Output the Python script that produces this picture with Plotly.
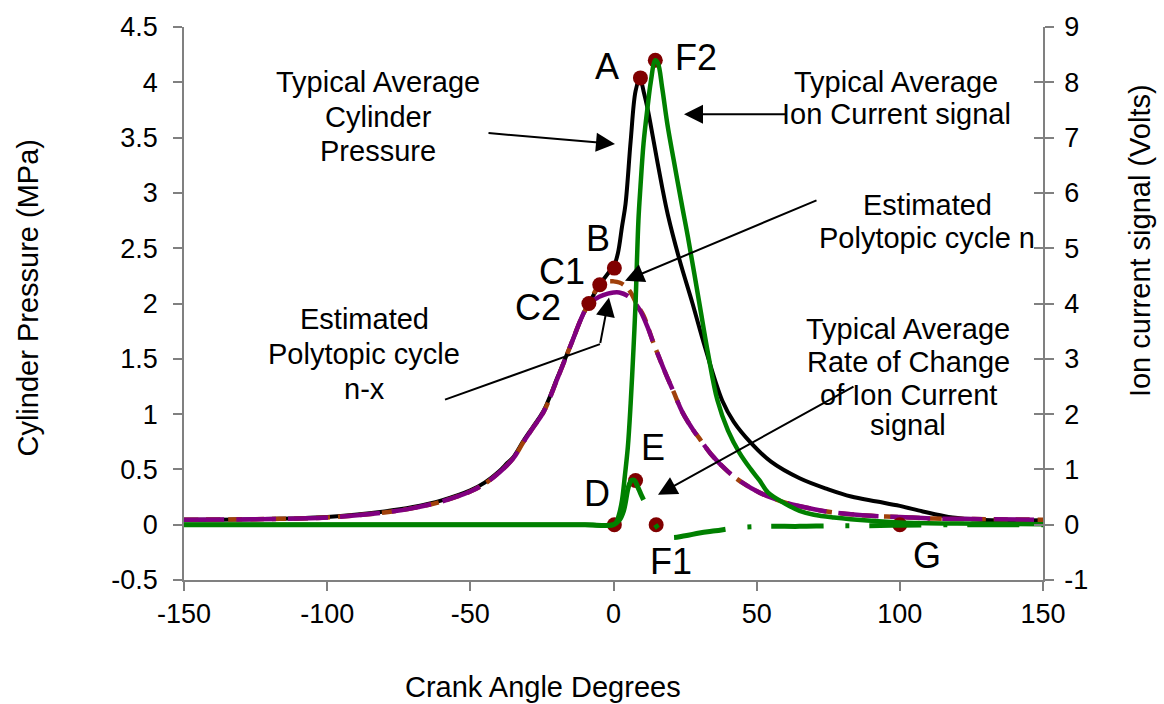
import plotly.graph_objects as go

# ---------------- data ----------------
ang_p = [-150, -125, -100, -80, -70, -60, -50, -45, -40, -37, -35, -31.4, -28, -24.4, -19.6, -15, -11,
         -8.6, -4.8, -2, 0, 1.5, 3, 4.2, 6, 7.7, 9.2, 10.5, 12, 14, 17, 19, 23, 27.6, 32, 38, 42, 48,
         55, 65, 75, 83, 92, 100, 108, 117, 125, 135, 150]
pressure = [0.045, 0.05, 0.07, 0.12, 0.16, 0.22, 0.31, 0.38, 0.48, 0.56, 0.61, 0.76, 0.89, 1.03, 1.33,
            1.62, 1.88, 2.0, 2.17, 2.27, 2.33, 2.45, 2.7, 2.9, 3.47, 3.92, 4.04, 3.92, 3.75, 3.47, 3.05,
            2.8, 2.4, 2.0, 1.6, 1.12, 0.93, 0.74, 0.57, 0.42, 0.32, 0.255, 0.21, 0.17, 0.12, 0.07, 0.05,
            0.04, 0.04]

ang_n = [-150, -125, -100, -80, -70, -60, -50, -45, -40, -35, -31.4, -28, -24.4, -19.6, -15, -11, -8.6,
         -4.8, -2, 0, 2, 4, 6, 8, 10.5, 14, 18, 21, 24, 28, 30, 34, 40, 45, 51, 60, 70, 77, 90, 100,
         112, 130, 150]
cycle_n = [0.045, 0.05, 0.065, 0.11, 0.15, 0.21, 0.3, 0.37, 0.47, 0.6, 0.75, 0.88, 1.02, 1.32, 1.62,
           1.88, 2.0, 2.17, 2.2, 2.2, 2.19, 2.16, 2.1, 2.0, 1.89, 1.64, 1.38, 1.2, 1.02, 0.85, 0.78,
           0.64, 0.48, 0.38, 0.29, 0.2, 0.14, 0.11, 0.08, 0.07, 0.055, 0.05, 0.045]

ang_nx = [-150, -125, -100, -80, -70, -60, -50, -45, -40, -35, -31.4, -28, -24.4, -19.6, -15, -11, -8.6,
          -5, -2, 0, 2, 4.9, 7, 9.4, 12, 14, 18, 21, 24, 28, 30, 34, 40, 45, 51, 60, 70, 77, 90, 100,
          112, 130, 150]
cycle_nx = [0.045, 0.05, 0.065, 0.11, 0.15, 0.21, 0.3, 0.37, 0.47, 0.6, 0.75, 0.88, 1.02, 1.32, 1.62,
            1.88, 2.0, 2.06, 2.09, 2.1, 2.1, 2.07, 2.02, 1.93, 1.78, 1.64, 1.38, 1.2, 1.02, 0.85, 0.78,
            0.64, 0.48, 0.38, 0.29, 0.2, 0.14, 0.11, 0.08, 0.07, 0.055, 0.05, 0.045]

ang_i = [-150, -120, -90, -60, -30, -10, 0, 1, 2, 3, 4, 5, 6, 7, 7.7, 8.7, 9.4, 10.5, 11.9, 13, 14.6,
         15.5, 17, 18.8, 21, 24, 26, 30, 33, 36.3, 40, 44, 48, 51, 54, 60, 65, 70, 77, 90, 100, 120, 150]
ion_current = [0.0, 0.0, 0.0, 0.0, 0.0, 0.0, 0.0, 0.05, 0.2, 0.45, 0.9, 1.4, 2.2, 3.2, 4.0, 5.5, 6.1, 6.9,
               7.55, 8.0, 8.4, 8.35, 7.9, 7.25, 6.6, 5.75, 5.2, 4.0, 3.1, 2.25, 1.7, 1.3, 1.0, 0.8, 0.58,
               0.38, 0.25, 0.18, 0.13, 0.07, 0.04, 0.02, 0.01]

ang_r = [-150, -120, -90, -60, -30, -10, 0, 2, 3.5, 5.3, 6.3, 7.3, 8.5, 9.5, 10.5,
         14.6, 17, 20, 25, 30, 35.6, 44, 53, 65, 76, 84, 100, 120, 150]
rate = [0.0, 0.0, 0.0, 0.0, 0.0, 0.0, 0.0, 0.08, 0.25, 0.7, 0.8, 0.8, 0.68, 0.56, 0.45,
        0.0, -0.15, -0.23, -0.2, -0.15, -0.11, -0.05, -0.03, -0.03, -0.02, -0.02, -0.01, 0.0, 0.0]
rate_break = 15  # index where the dash-dot part starts

pts_p_lab = ["A", "B", "C1", "C2"]
pts_p_x = [9.4, 0.3, -4.8, -8.6]
pts_p_y = [4.04, 2.32, 2.17, 2.0]
pts_i_lab = ["F2", "D", "E", "F1", "G"]
pts_i_x = [14.6, 0.3, 7.7, 14.9, 100]
pts_i_y = [8.4, 0.0, 0.8, 0.0, 0.0]

x_ticks = [-150, -100, -50, 0, 50, 100, 150]
x_text = ["-150", "-100", "-50", "0", "50", "100", "150"]
y1_ticks = [-0.5, 0, 0.5, 1, 1.5, 2, 2.5, 3, 3.5, 4, 4.5]
y1_text = ["-0.5", "0", "0.5", "1", "1.5", "2", "2.5", "3", "3.5", "4", "4.5"]
y2_ticks = [-1, 0, 1, 2, 3, 4, 5, 6, 7, 8, 9]
y2_text = ["-1", "0", "1", "2", "3", "4", "5", "6", "7", "8", "9"]

# ---------------- layout geometry (pixels) ----------------
W, H = 1164, 704
PL, PR, PT, PB = 184, 1043, 22, 580
FONT = "Liberation Sans, Arial, sans-serif"


def px(x):
    return (x - PL) / (PR - PL)


def py(y):
    return (PB - y) / (PB - PT)


fig = go.Figure()

# pressure-axis lines
fig.add_trace(go.Scatter(x=ang_p, y=pressure, mode="lines", line=dict(color="black", width=4),
                         line_shape="spline", name="Cylinder pressure", yaxis="y"))
fig.add_trace(go.Scatter(x=ang_n, y=cycle_n, mode="lines",
                         line=dict(color="#A0400A", width=4.5, dash="14px,8px"),
                         line_shape="spline", name="Polytopic cycle n", yaxis="y"))
fig.add_trace(go.Scatter(x=ang_nx, y=cycle_nx, mode="lines",
                         line=dict(color="#800080", width=4.5, dash="40px,12px"),
                         line_shape="spline", name="Polytopic cycle n-x", yaxis="y"))
fig.add_trace(go.Scatter(x=pts_p_x, y=pts_p_y, mode="markers",
                         marker=dict(color="#800000", size=15), name="points p", yaxis="y"))

# ion-axis
fig.add_trace(go.Scatter(x=pts_i_x, y=pts_i_y, mode="markers",
                         marker=dict(color="#800000", size=15), name="points i", yaxis="y2"))
fig.add_trace(go.Scatter(x=ang_i, y=ion_current, mode="lines", line=dict(color="#008000", width=4.5),
                         line_shape="spline", name="Ion current", yaxis="y2"))
fig.add_trace(go.Scatter(x=ang_r[:rate_break], y=rate[:rate_break], mode="lines",
                         line=dict(color="#008000", width=5), line_shape="spline",
                         name="Rate of change", yaxis="y2"))
fig.add_trace(go.Scatter(x=ang_r[rate_break:], y=rate[rate_break:], mode="lines",
                         line=dict(color="#008000", width=5, dash="4px,20px,52px,22px"),
                         line_shape="spline", name="Rate of change 2", yaxis="y2"))

ann = []


def text(s, x, y, size=29, angle=0):
    ann.append(dict(text=s, x=px(x), y=py(y), xref="paper", yref="paper", showarrow=False,
                    xanchor="center", yanchor="middle", textangle=angle,
                    font=dict(family=FONT, size=size, color="black")))


def arrow(x0, y0, x1, y1):
    ann.append(dict(text="", x=px(x1), y=py(y1), xref="paper", yref="paper", showarrow=True,
                    ax=x0 - x1, ay=y0 - y1, axref="pixel", ayref="pixel",
                    arrowhead=2, arrowsize=1.9, arrowwidth=2, arrowcolor="black", standoff=0))


# text blocks
for s, y in zip(["Typical Average", "Cylinder", "Pressure"], [78, 113, 147]):
    text(s, 378, y)
for s, y in zip(["Typical Average", "Ion Current signal"], [78, 110]):
    text(s, 896, y)
for s, y in zip(["Estimated", "Polytopic cycle n"], [202, 235]):
    text(s, 927, y)
for s, y in zip(["Estimated", "Polytopic cycle", "n-x"], [317, 352, 387]):
    text(s, 364, y)
for s, y in zip(["Typical Average", "Rate of Change", "of Ion Current", "signal"], [327, 360, 393, 424]):
    text(s, 908, y)

# point letters
for s, x, y in [("A", 607, 62), ("F2", 696, 53), ("B", 598, 235), ("C1", 562, 269), ("C2", 538, 305),
                ("D", 597, 493), ("E", 653, 446), ("F1", 671, 561), ("G", 927, 555)]:
    text(s, x, y, size=36)

# arrows
arrow(487, 129, 615, 140)
arrow(788, 110, 684, 110)
arrow(818, 197, 625, 278)
arrow(600, 342, 609, 295)
arrow(855, 385, 658, 494)

# axis titles
text("Cylinder Pressure (MPa)", 28, 296, size=29, angle=-90)
text("Ion current signal (Volts)", 1140, 238, size=29, angle=-90)
text("Crank Angle Degrees", 543, 688, size=29)

shapes = [dict(type="line", xref="paper", yref="paper", x0=px(445), y0=py(398), x1=px(600), y1=py(342),
               line=dict(color="black", width=2))]

axis_common = dict(showgrid=False, zeroline=False, linecolor="#808080", linewidth=1.5,
                   tickcolor="#808080", tickwidth=1.5, ticklen=9,
                   tickfont=dict(family=FONT, size=27, color="black"))

fig.update_layout(
    width=W, height=H,
    margin=dict(l=PL, r=W - PR, t=PT, b=H - PB),
    paper_bgcolor="white", plot_bgcolor="white",
    showlegend=False,
    font=dict(family=FONT, color="black"),
    xaxis=dict(range=[-150, 150], tickvals=x_ticks, ticktext=x_text, showline=True, ticks="outside",
               **axis_common),
    yaxis=dict(range=[-0.5, 4.5], tickvals=y1_ticks, ticktext=y1_text, showline=True,
               ticks="outside", ticklabelstandoff=10, **axis_common),
    yaxis2=dict(range=[-1, 9], tickvals=y2_ticks, ticktext=y2_text, overlaying="y", side="right",
                anchor="x", showline=True, ticks="outside", ticklabelstandoff=5, **axis_common),
    yaxis3=dict(range=[-1, 9], tickvals=y2_ticks, overlaying="y", side="right", anchor="x",
                showline=False, ticks="inside", showticklabels=False, showgrid=False, zeroline=False,
                tickcolor="#808080", tickwidth=1.5, ticklen=9),
    annotations=ann,
    shapes=shapes,
)
# dummy trace to activate yaxis3
fig.add_trace(go.Scatter(x=[None], y=[None], yaxis="y3", showlegend=False, hoverinfo="skip"))

fig.write_html("out.html")
